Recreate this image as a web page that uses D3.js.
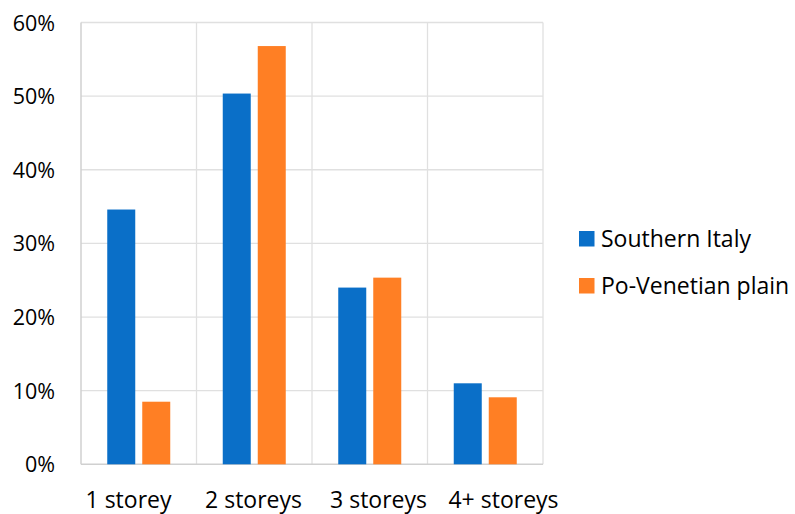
<!DOCTYPE html>
<html>
<head>
<meta charset="utf-8">
<script src="https://cdn.jsdelivr.net/npm/d3@7"></script>
<style>
  html, body { margin: 0; padding: 0; background: #fff; }
  svg text { font-family: "Open Sans", "Noto Sans", sans-serif; fill: #000; }
</style>
</head>
<body>
<svg id="chart" width="795" height="514"></svg>
<script>
// Share of buildings by number of storeys
const categories = ["1 storey", "2 storeys", "3 storeys", "4+ storeys"];
const seriesNames = ["Southern Italy", "Po-Venetian plain"];
const southernItaly = [34.6, 50.35, 24.0, 11.0];
const poVenetian = [8.5, 56.8, 25.35, 9.1];
const yTicks = [0, 10, 20, 30, 40, 50, 60];
const colors = ["#0A6FC8", "#FF7F24"];

const values = [southernItaly, poVenetian];
const svg = d3.select("#chart");

const plotLeft = 81, plotRight = 543, plotTop = 22.5, plotBottom = 464.3;

const x = d3.scaleBand().domain(categories).range([plotLeft, plotRight]).paddingInner(0).paddingOuter(0);
const xInner = d3.scaleBand().domain(seriesNames).range([0, x.bandwidth()]).paddingInner(0.2).paddingOuter(0.75);
// category labels are spaced a little wider than the plot bands
const xLabel = d3.scaleBand().domain(categories).range([66, 566]);
const y = d3.scaleLinear().domain([0, 60]).range([plotBottom, plotTop]);

// horizontal gridlines
svg.append("g").selectAll("line").data(yTicks.slice(1)).join("line")
  .attr("x1", plotLeft).attr("x2", plotRight)
  .attr("y1", d => y(d)).attr("y2", d => y(d))
  .attr("stroke", "#e0e0e0").attr("stroke-width", 1.3);

// vertical category separators
const seps = categories.map(c => x(c) + x.bandwidth());
svg.append("g").selectAll("line").data(seps).join("line")
  .attr("x1", d => d).attr("x2", d => d)
  .attr("y1", plotTop).attr("y2", plotBottom)
  .attr("stroke", "#e0e0e0").attr("stroke-width", 1.3);

// axis lines
svg.append("line").attr("x1", plotLeft).attr("x2", plotLeft).attr("y1", plotTop).attr("y2", plotBottom)
  .attr("stroke", "#d0d0d0").attr("stroke-width", 1.5);
svg.append("line").attr("x1", plotLeft).attr("x2", plotRight).attr("y1", plotBottom).attr("y2", plotBottom)
  .attr("stroke", "#d0d0d0").attr("stroke-width", 1.5);

// bars
seriesNames.forEach((s, i) => {
  svg.append("g").selectAll("rect").data(categories).join("rect")
    .attr("x", c => x(c) + xInner(s))
    .attr("width", xInner.bandwidth())
    .attr("y", (c, j) => y(values[i][j]))
    .attr("height", (c, j) => y(0) - y(values[i][j]))
    .attr("fill", colors[i]);
});

// y tick labels
const yAxis = d3.axisLeft(y).tickValues(yTicks).tickFormat(d => d + "%").tickSize(0).tickPadding(0);
const yg = svg.append("g").attr("transform", "translate(55,0)").call(yAxis);
yg.select(".domain").remove();
yg.selectAll("text").attr("font-size", 21.5).attr("font-family", null).attr("dy", "0.35em").attr("x", 0);

// category labels
const xAxis = d3.axisBottom(xLabel).tickSize(0).tickPadding(0);
const xg = svg.append("g").attr("transform", `translate(0,${plotBottom})`).call(xAxis);
xg.select(".domain").remove();
xg.selectAll("text").attr("font-size", 23).attr("font-family", null).attr("dy", null).attr("y", 43.7);

// legend
const legend = svg.append("g").attr("transform", "translate(579,231)");
seriesNames.forEach((s, i) => {
  const g = legend.append("g").attr("transform", `translate(0,${i * 47})`);
  g.append("rect").attr("width", 15.5).attr("height", 15.5).attr("fill", colors[i]);
  g.append("text").attr("x", 22).attr("y", 16).attr("font-size", 23).text(s);
});
</script>
</body>
</html>
